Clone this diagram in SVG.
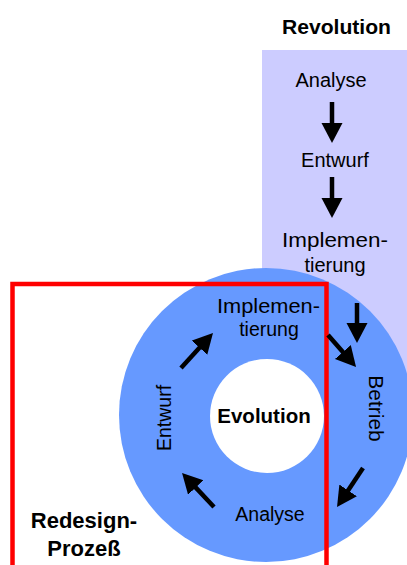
<svg xmlns="http://www.w3.org/2000/svg" width="407" height="565" viewBox="0 0 407 565">
  <style>
    .lbl { font-family: "Liberation Sans", Arial, sans-serif; fill: #000; text-anchor: middle; }
    .top { font-size: 20px; }
    .ring { font-size: 19.5px; }
    .title { font-size: 21px; font-weight: bold; }
    .arrow { stroke: #000; stroke-width: 4.5; fill: none; marker-end: url(#head); }
  </style>
  <defs>
    <marker id="head" markerUnits="userSpaceOnUse" markerWidth="22" markerHeight="22" refX="4" refY="10.5" orient="auto">
      <path d="M0,0 L20,10.5 L0,21 Z" fill="#000"/>
    </marker>
  </defs>
  <rect width="407" height="565" fill="#fff"/>

  <!-- Revolution: linear column -->
  <g id="revolution">
    <rect x="262" y="50" width="145" height="330" fill="#CCCCFF"/>
    <text class="lbl title" x="336.5" y="34" textLength="109" lengthAdjust="spacingAndGlyphs">Revolution</text>
  </g>
  <g id="rev-analyse"><text class="lbl top" x="331" y="87">Analyse</text></g>
  <g id="rev-entwurf"><text class="lbl top" x="335" y="167">Entwurf</text></g>
  <g id="rev-implementierung">
    <text class="lbl top" x="335" y="247" textLength="106" lengthAdjust="spacingAndGlyphs">Implemen-</text>
    <text class="lbl top" x="335" y="272">tierung</text>
  </g>

  <!-- Evolution: cycle ring -->
  <g id="evolution">
    <circle cx="266" cy="415" r="147" fill="#6699FF"/>
    <circle cx="267" cy="416" r="57" fill="#fff"/>
    <text class="lbl title" x="264" y="423" style="font-size:20.5px">Evolution</text>
  </g>

  <!-- Redesign process frame -->
  <g id="redesign">
    <rect x="12.5" y="284" width="314" height="300" fill="none" stroke="#FF0000" stroke-width="4.5"/>
    <text class="lbl title" x="84" y="528" style="font-size:22px">Redesign-</text>
    <text class="lbl title" x="84" y="556" style="font-size:22px">Prozeß</text>
  </g>

  <g id="evo-implementierung">
    <text class="lbl ring" x="268.5" y="313" textLength="103" lengthAdjust="spacingAndGlyphs">Implemen-</text>
    <text class="lbl ring" x="269" y="336">tierung</text>
  </g>
  <g id="evo-betrieb"><text class="lbl ring" transform="translate(369,408.5) rotate(90)" style="font-size:21px">Betrieb</text></g>
  <g id="evo-analyse"><text class="lbl ring" x="270" y="521">Analyse</text></g>
  <g id="evo-entwurf"><text class="lbl ring" transform="translate(171,418) rotate(-90)">Entwurf</text></g>

  <!-- connectors -->
  <g id="connectors">
    <line class="arrow" x1="332" y1="102" x2="332" y2="127"/>
    <line class="arrow" x1="332" y1="177" x2="332" y2="202"/>
    <line class="arrow" x1="357" y1="303" x2="357" y2="327"/>
    <line class="arrow" x1="328" y1="335" x2="345.5" y2="355"/>
    <line class="arrow" x1="363" y1="468" x2="345.9" y2="493.7"/>
    <line class="arrow" x1="214" y1="507" x2="193" y2="484.6"/>
    <line class="arrow" x1="181" y1="368" x2="202.2" y2="344.8"/>
  </g>
</svg>
